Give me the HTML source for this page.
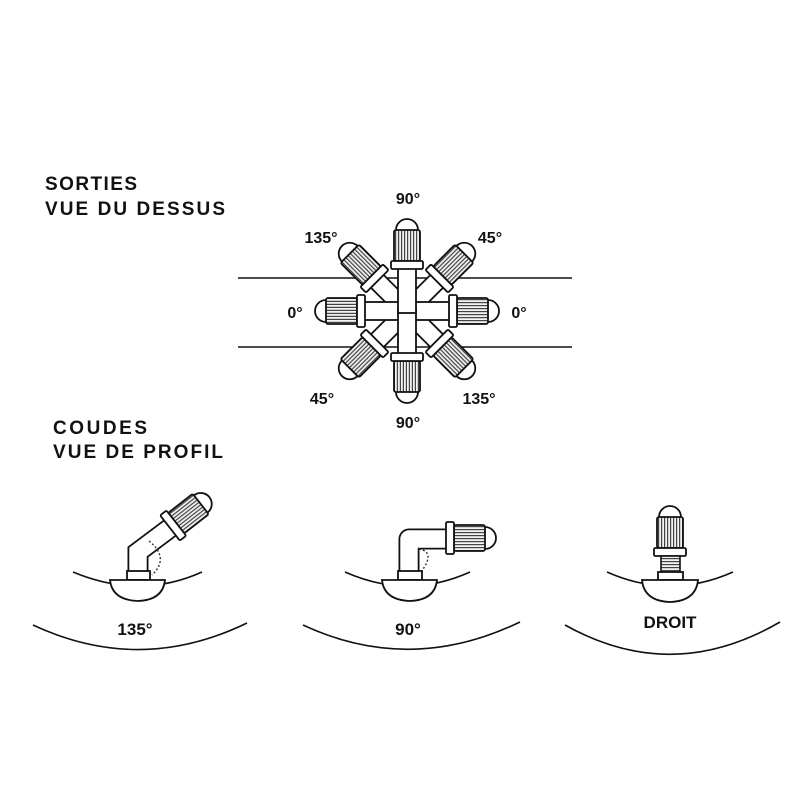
<!DOCTYPE html>
<html><head><meta charset="utf-8"><style>
html,body{margin:0;padding:0;background:#fff;}
svg{display:block;}
text{font-family:"Liberation Sans",sans-serif;font-weight:bold;fill:#111;}
</style></head><body>
<svg width="800" height="800" viewBox="0 0 800 800" xmlns="http://www.w3.org/2000/svg">
<defs>
<pattern id="rib" patternUnits="userSpaceOnUse" width="10" height="3">
<rect width="10" height="3" fill="#f2f2f2"/>
<rect x="0" y="0" width="10" height="1.2" fill="#444"/>
</pattern>
<g id="head" stroke="#111" stroke-width="1.8">
<path d="M38,-11 L39,-11 A11,11 0 0 1 39,11 L38,11 Z" fill="#fff"/>
<rect x="8" y="-13" width="31" height="26" rx="2" fill="url(#rib)"/>
<rect x="0" y="-16" width="8" height="32" rx="1.5" fill="#fff"/>
</g>
<g id="arm">
<rect x="-2" y="-9" width="45" height="18" fill="#fff" stroke="#111" stroke-width="1.8"/>
<use href="#head" x="42" y="0"/>
</g>
</defs>

<text x="45" y="190" font-size="19" textLength="92">SORTIES</text>
<text x="45" y="215" font-size="19" textLength="180">VUE DU DESSUS</text>
<text x="53" y="434" font-size="19" textLength="94">COUDES</text>
<text x="53" y="458" font-size="19" textLength="170">VUE DE PROFIL</text>

<g stroke="#111" stroke-width="1.6">
<line x1="238" y1="278" x2="572" y2="278"/>
<line x1="238" y1="347" x2="572" y2="347"/>
</g>

<g transform="translate(407,311)">
<use href="#arm" transform="rotate(-45)"/>
<use href="#arm" transform="rotate(-135)"/>
<use href="#arm" transform="rotate(45)"/>
<use href="#arm" transform="rotate(135)"/>
<use href="#arm" transform="rotate(0)"/>
<use href="#arm" transform="rotate(180)"/>
<use href="#arm" transform="rotate(90)"/>
<use href="#arm" transform="rotate(-90)"/>
</g>

<g font-size="16" text-anchor="middle">
<text x="408" y="204">90°</text>
<text x="321" y="243">135°</text>
<text x="490" y="243">45°</text>
<text x="295" y="318">0°</text>
<text x="519" y="318">0°</text>
<text x="322" y="404">45°</text>
<text x="408" y="428">90°</text>
<text x="479" y="404">135°</text>
</g>

<g fill="none" stroke="#111" stroke-width="1.6">
<path d="M73,572 Q140,600 202,572"/>
<path d="M33,625 Q140,675 247,623"/>
<path d="M345,572 Q408,600 470,572"/>
<path d="M303,625 Q410,675 520,622"/>
<path d="M607,572 Q670,600 733,572"/>
<path d="M565,625 Q672,685 780,622"/>
</g>

<!-- 135 fitting -->
<polyline points="138,575 138,552 174,525" fill="none" stroke="#111" stroke-width="21" stroke-linejoin="miter"/>
<polyline points="138,577 138,552 174,525" fill="none" stroke="#fff" stroke-width="17.4" stroke-linejoin="miter"/>
<use href="#head" transform="translate(170,528) rotate(-38)"/>
<path d="M149,541 Q170,558 152,575" fill="none" stroke="#333" stroke-width="1.4" stroke-dasharray="2,2"/>
<rect x="127" y="571" width="23" height="9" fill="#fff" stroke="#111" stroke-width="1.8"/>
<path d="M110,580 L165,580 Q163,600 138,601 Q112,600 110,580 Z" fill="#fff" stroke="#111" stroke-width="1.8"/>
<text x="135" y="635" font-size="17" text-anchor="middle">135°</text>

<!-- 90 fitting -->
<polyline points="409,575 409,539 449,539" fill="none" stroke="#111" stroke-width="21" stroke-linejoin="round"/>
<polyline points="409,577 409,539 449,539" fill="none" stroke="#fff" stroke-width="17.4" stroke-linejoin="round"/>
<use href="#head" transform="translate(446,538)"/>
<path d="M419,549 Q436,552 421,572" fill="none" stroke="#333" stroke-width="1.4" stroke-dasharray="2,2"/>
<rect x="398" y="571" width="24" height="9" fill="#fff" stroke="#111" stroke-width="1.8"/>
<path d="M382,580 L437,580 Q435,600 410,601 Q384,600 382,580 Z" fill="#fff" stroke="#111" stroke-width="1.8"/>
<text x="408" y="635" font-size="17" text-anchor="middle">90°</text>

<!-- droit -->
<use href="#head" transform="translate(670,556) rotate(-90)"/>
<rect x="661" y="556" width="19" height="17" fill="url(#rib)" stroke="#111" stroke-width="1.6"/>
<rect x="658" y="572" width="25" height="8" fill="#fff" stroke="#111" stroke-width="1.8"/>
<path d="M642,580 L698,580 Q696,601 670,602 Q644,601 642,580 Z" fill="#fff" stroke="#111" stroke-width="1.8"/>
<text x="670" y="628" font-size="17" text-anchor="middle">DROIT</text>
</svg>
</body></html>
